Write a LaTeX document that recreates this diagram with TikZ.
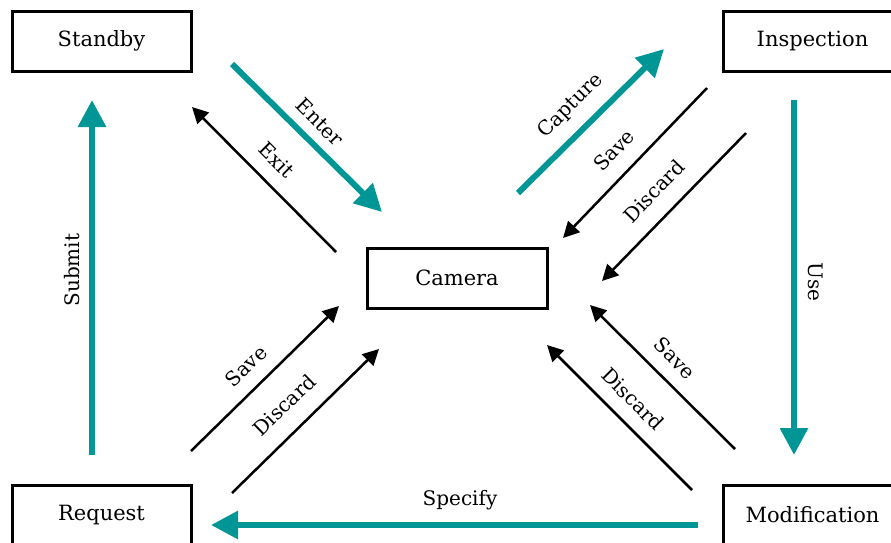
\documentclass[tikz,border=0pt]{standalone}
\usepackage{fontspec}
\setmainfont{DejaVu Serif}
\usetikzlibrary{arrows.meta}
\definecolor{tealarrow}{RGB}{0,150,150}
\begin{document}
\begin{tikzpicture}[x=1pt,y=-1pt,
  box/.style={draw,line width=3pt,minimum width=179pt,minimum height=60pt,inner sep=0pt,font=\fontsize{21}{24}\selectfont},
  lab/.style={inner sep=0pt,font=\fontsize{20}{23}\selectfont},
  tealarr/.style={draw=tealarrow,line width=6pt,-{Triangle[length=27pt,width=27pt]}},
  blackarr/.style={draw=black,line width=2.5pt,-{Triangle[length=16pt,width=16pt]}}]
\useasboundingbox (0,0) rectangle (891,542);
\clip (0,0) rectangle (891,542);
% boxes
\node[box] (standby) at (101.5,41) {Standby};
\node[box] (inspection) at (812.5,41) {Inspection};
\node[box,minimum width=180pt] (camera) at (457,278) {Camera};
\node[box] (request) at (101.5,515) {Request};
\node[box] (modification) at (812.5,515) {Modification};
% arrow end points
\coordinate (enterA) at (232,64);   \coordinate (enterB) at (382,212);
\coordinate (exitA) at (336,252);   \coordinate (exitB) at (192,107);
\coordinate (submitA) at (92,455);  \coordinate (submitB) at (92,100);
\coordinate (captA) at (518,193);   \coordinate (captB) at (664,49);
\coordinate (isaveA) at (707,88);   \coordinate (isaveB) at (563,238);
\coordinate (idiscA) at (746,133);  \coordinate (idiscB) at (602,281);
\coordinate (useA) at (794,100);    \coordinate (useB) at (794,455);
\coordinate (rsaveA) at (191,451);  \coordinate (rsaveB) at (339,306);
\coordinate (rdiscA) at (232,493);  \coordinate (rdiscB) at (379,349);
\coordinate (msaveA) at (735,449);  \coordinate (msaveB) at (590,305);
\coordinate (mdiscA) at (692,490);  \coordinate (mdiscB) at (547,345);
\coordinate (specA) at (698,525);   \coordinate (specB) at (211,525);
% teal arrows
\draw[tealarr] (enterA) -- (enterB);
\draw[tealarr] (submitA) -- (submitB);
\draw[tealarr] (captA) -- (captB);
\draw[tealarr] (useA) -- (useB);
\draw[tealarr] (specA) -- (specB);
% black arrows
\draw[blackarr] (exitA) -- (exitB);
\draw[blackarr] (isaveA) -- (isaveB);
\draw[blackarr] (idiscA) -- (idiscB);
\draw[blackarr] (rsaveA) -- (rsaveB);
\draw[blackarr] (rdiscA) -- (rdiscB);
\draw[blackarr] (msaveA) -- (msaveB);
\draw[blackarr] (mdiscA) -- (mdiscB);
% labels
\node[lab,rotate=-45] (lenter) at (320,122) {Enter};
\node[lab,rotate=-45] (lexit) at (277,160) {Exit};
\node[lab,rotate=90] (lsubmit) at (72,270) {Submit};
\node[lab,rotate=45] (lcapt) at (571,106) {Capture};
\node[lab,rotate=46] (lisave) at (614,150) {Save};
\node[lab,rotate=46] (lidisc) at (654,191) {Discard};
\node[lab,rotate=-90] (luse) at (816,282) {Use};
\node[lab,rotate=44] (lrsave) at (246,366) {Save};
\node[lab,rotate=44] (lrdisc) at (284,405) {Discard};
\node[lab,rotate=-45] (lmsave) at (675,358) {Save};
\node[lab,rotate=-45] (lmdisc) at (633,399) {Discard};
\node[lab] (lspec) at (460,500) {Specify};
\end{tikzpicture}
\end{document}
